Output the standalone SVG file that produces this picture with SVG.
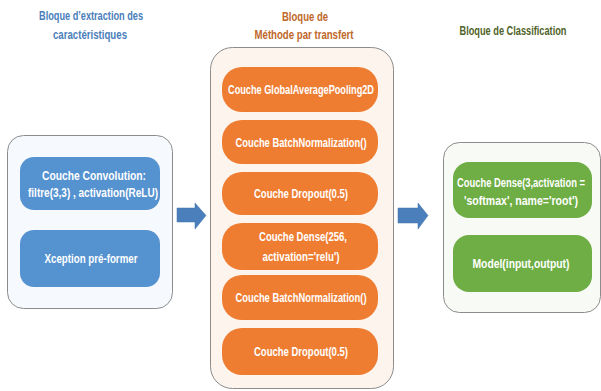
<svg xmlns="http://www.w3.org/2000/svg" width="601" height="391" viewBox="0 0 601 391">
<defs>
<style>
.t{font-family:"Liberation Sans",Arial,sans-serif;font-weight:bold;text-anchor:middle}
.title{font-size:12.5px}
.lbl{font-size:12px;fill:#ffffff}
.cont{stroke:#8c8c8c;stroke-width:1}
.blue{fill:#5592d0}
.orange{fill:#ee7d32}
.green{fill:#6eae44}
.arrow{fill:#4a7fbc;stroke:#3f70a8;stroke-width:0.5}
</style>
</defs>
<rect width="601" height="391" fill="#ffffff"/>
<g id="titles">
<text class="t title" x="91" y="20" fill="#4a7ebb" textLength="104" lengthAdjust="spacingAndGlyphs">Bloque d’extraction des</text>
<text class="t title" x="90" y="39" fill="#4a7ebb" textLength="74" lengthAdjust="spacingAndGlyphs">caractéristiques</text>
<text class="t title" x="305" y="21" fill="#c0672a" textLength="46" lengthAdjust="spacingAndGlyphs">Bloque de</text>
<text class="t title" x="304" y="39" fill="#c0672a" textLength="99" lengthAdjust="spacingAndGlyphs">Méthode par transfert</text>
<text class="t" x="513" y="35" fill="#4f6228" font-size="12" textLength="107" lengthAdjust="spacingAndGlyphs">Bloque de Classification</text>
</g>
<g id="block-extraction">
<rect class="cont" x="7.5" y="135.5" width="165" height="173" rx="16" fill="#f6f9fd"/>
<g id="n-conv">
<rect class="blue" x="20" y="157" width="140" height="53" rx="14"/>
<text class="t lbl" x="94" y="180" textLength="104" lengthAdjust="spacingAndGlyphs">Couche Convolution:</text>
<text class="t lbl" x="93" y="197" textLength="130" lengthAdjust="spacingAndGlyphs">filtre(3,3) , activation(ReLU)</text>
</g>
<g id="n-xception">
<rect class="blue" x="20" y="230" width="140" height="57" rx="14"/>
<text class="t lbl" x="91" y="263" textLength="93" lengthAdjust="spacingAndGlyphs">Xception pré-former</text>
</g>
</g>
<g id="block-transfert">
<rect class="cont" x="210.5" y="47.5" width="183" height="341" rx="22" fill="#fdf4ee"/>
<g id="n-gap">
<rect class="orange" x="222" y="67" width="156" height="45" rx="20"/>
<text class="t lbl" x="301" y="94" textLength="146" lengthAdjust="spacingAndGlyphs">Couche GlobalAveragePooling2D</text>
</g>
<g id="n-bn1">
<rect class="orange" x="222" y="120" width="156" height="44" rx="20"/>
<text class="t lbl" x="301" y="147" textLength="131" lengthAdjust="spacingAndGlyphs">Couche BatchNormalization()</text>
</g>
<g id="n-drop1">
<rect class="orange" x="222" y="172" width="156" height="43" rx="20"/>
<text class="t lbl" x="301" y="198" textLength="94" lengthAdjust="spacingAndGlyphs">Couche Dropout(0.5)</text>
</g>
<g id="n-dense256">
<rect class="orange" x="222" y="223" width="156" height="47" rx="20"/>
<text class="t lbl" x="303" y="241" textLength="88" lengthAdjust="spacingAndGlyphs">Couche Dense(256,</text>
<text class="t lbl" x="301" y="261" textLength="77" lengthAdjust="spacingAndGlyphs">activation='relu')</text>
</g>
<g id="n-bn2">
<rect class="orange" x="222" y="275" width="156" height="45" rx="20"/>
<text class="t lbl" x="301" y="302" textLength="131" lengthAdjust="spacingAndGlyphs">Couche BatchNormalization()</text>
</g>
<g id="n-drop2">
<rect class="orange" x="222" y="328" width="156" height="47" rx="20"/>
<text class="t lbl" x="301" y="356" textLength="94" lengthAdjust="spacingAndGlyphs">Couche Dropout(0.5)</text>
</g>
</g>
<g id="block-classification">
<rect class="cont" x="443.5" y="142.5" width="157" height="170" rx="16" fill="#f8faf6"/>
<g id="n-dense3">
<rect class="green" x="453" y="162" width="139" height="56" rx="16"/>
<text class="t lbl" x="521" y="187" font-size="10.5" textLength="128" lengthAdjust="spacingAndGlyphs">Couche Dense(3,activation =</text>
<text class="t lbl" x="521" y="205" textLength="114" lengthAdjust="spacingAndGlyphs">'softmax', name='root')</text>
</g>
<g id="n-model">
<rect class="green" x="453" y="235" width="139" height="57" rx="16"/>
<text class="t lbl" x="521" y="268" textLength="97" lengthAdjust="spacingAndGlyphs">Model(input,output)</text>
</g>
</g>
<g id="connectors">
<polygon class="arrow" points="177,208 195,208 195,203 206,215.5 195,229 195,222 177,222"/>
<polygon class="arrow" points="398,208 418,208 418,203 428,215.5 418,229 418,223 398,223"/>
</g>
</svg>
